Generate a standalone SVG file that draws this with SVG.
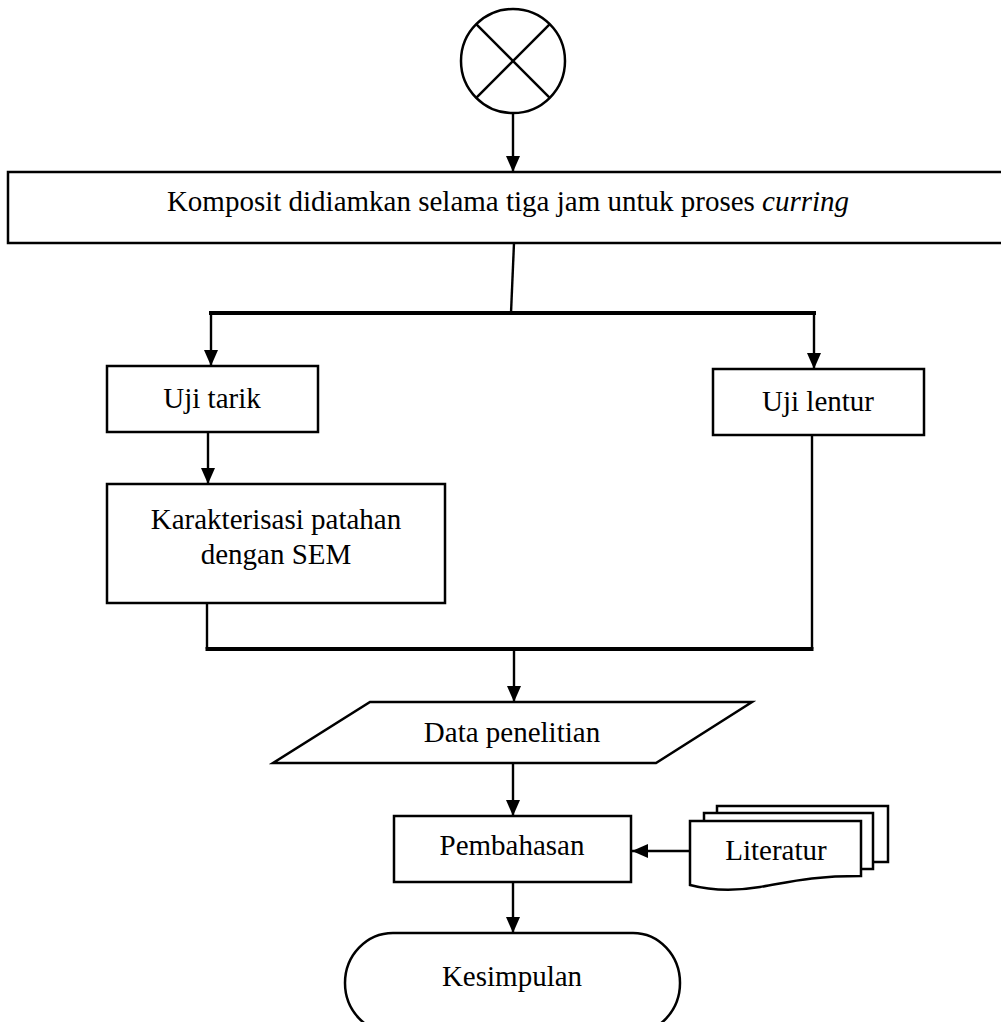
<svg xmlns="http://www.w3.org/2000/svg" width="1001" height="1022" viewBox="0 0 1001 1022">
<style>
.box{fill:#fff;stroke:#000;stroke-width:2.5}
.ln{fill:none;stroke:#000;stroke-width:2.4}
.bus{fill:none;stroke:#000;stroke-width:4}
.t{font-family:"Liberation Serif","Times New Roman",serif;font-size:29px;fill:#000;text-anchor:middle}
</style>
<defs>
<marker id="ah" viewBox="0 0 16 14" markerWidth="16" markerHeight="14" refX="16" refY="7" orient="auto" markerUnits="userSpaceOnUse">
<path d="M0,0 L16,7 L0,14 z" fill="#000"/>
</marker>
</defs>
<rect width="1001" height="1022" fill="#fff"/>
<g id="connectors">
<line class="ln" x1="513" y1="113" x2="513" y2="172" marker-end="url(#ah)"/>
<line class="ln" x1="514" y1="243" x2="511" y2="313" stroke-width="3"/>
<line class="bus" x1="209" y1="313" x2="816" y2="313"/>
<line class="ln" x1="211" y1="313" x2="211" y2="366" marker-end="url(#ah)"/>
<line class="ln" x1="814" y1="313" x2="814" y2="369" marker-end="url(#ah)"/>
<line class="ln" x1="208" y1="432" x2="208" y2="484" marker-end="url(#ah)"/>
<line class="ln" x1="207" y1="603" x2="207" y2="649" stroke-width="3"/>
<line class="ln" x1="812" y1="435" x2="812" y2="649" stroke-width="3"/>
<line class="bus" x1="205.5" y1="649" x2="813.5" y2="649"/>
<line class="ln" x1="514" y1="649" x2="514" y2="702" marker-end="url(#ah)"/>
<line class="ln" x1="513" y1="763" x2="513" y2="816" marker-end="url(#ah)"/>
<line class="ln" x1="690" y1="851" x2="632" y2="851" marker-end="url(#ah)"/>
<line class="ln" x1="513" y1="882" x2="513" y2="933" marker-end="url(#ah)"/>
</g>
<g id="start">
<circle cx="513" cy="61" r="52" fill="#fff" stroke="#000" stroke-width="2.5"/>
<line class="ln" x1="476.2" y1="24.2" x2="549.8" y2="97.8" stroke-width="2.5"/>
<line class="ln" x1="549.8" y1="24.2" x2="476.2" y2="97.8" stroke-width="2.5"/>
</g>
<g id="komposit">
<rect class="box" x="8" y="172" width="1000" height="71"/>
<text class="t" x="508" y="211">Komposit didiamkan selama tiga jam untuk proses <tspan font-style="italic">curring</tspan></text>
</g>
<g id="uji-tarik">
<rect class="box" x="107" y="366" width="211" height="66"/>
<text class="t" x="212" y="408">Uji tarik</text>
</g>
<g id="uji-lentur">
<rect class="box" x="713" y="369" width="211" height="66"/>
<text class="t" x="818" y="411">Uji lentur</text>
</g>
<g id="karakterisasi">
<rect class="box" x="107" y="484" width="338" height="119"/>
<text class="t" x="276" y="529">Karakterisasi patahan</text>
<text class="t" x="276" y="564">dengan SEM</text>
</g>
<g id="data">
<polygon class="box" points="370,702 752,702 656,763 273,763"/>
<text class="t" x="512" y="742">Data penelitian</text>
</g>
<g id="pembahasan">
<rect class="box" x="394" y="816" width="237" height="66"/>
<text class="t" x="512" y="855">Pembahasan</text>
</g>
<g id="literatur">
<rect class="box" x="717" y="806" width="171" height="56"/>
<rect class="box" x="704" y="813" width="169" height="56"/>
<path class="box" d="M690,821 L861,821 L861,876 C810,876 790,882 760,887 C730,892 705,889 690,885 Z"/>
<text class="t" x="776" y="860">Literatur</text>
</g>
<g id="kesimpulan">
<path class="box" d="M393,933 L633,933 A47,50 0 0 1 633,1033 L393,1033 A48,50 0 0 1 393,933 Z"/>
<text class="t" x="512" y="986">Kesimpulan</text>
</g>
</svg>
